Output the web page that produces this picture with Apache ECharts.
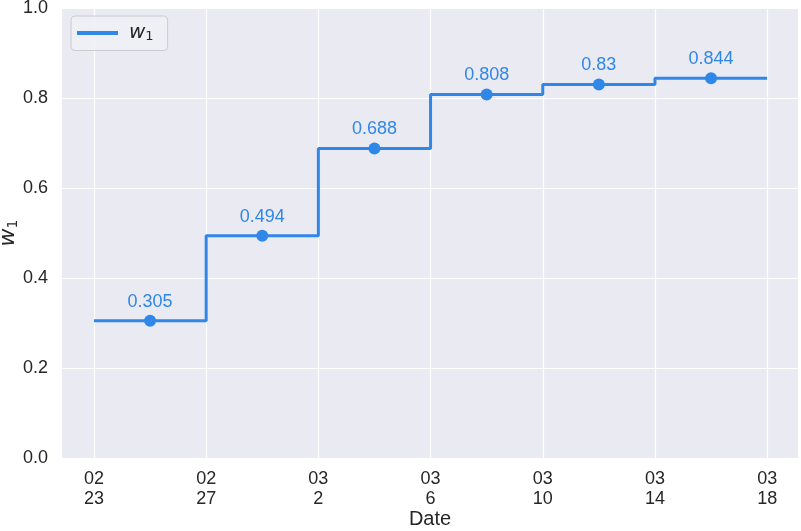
<!DOCTYPE html>
<html><head><meta charset="utf-8">
<script src="https://cdn.jsdelivr.net/npm/echarts@6/dist/echarts.min.js"></script>
<style>html,body{margin:0;padding:0;background:#fff}#c{width:801px;height:531px}</style>
</head><body><div id="c"></div>
<script>
// Step boundaries (2020) and values
const stepDates = ['2020-02-23','2020-02-27','2020-03-02','2020-03-06','2020-03-10','2020-03-14','2020-03-18'];
const stepValues = [0.305, 0.494, 0.688, 0.808, 0.83, 0.844];
const yTicks = [0, 0.2, 0.4, 0.6, 0.8, 1.0];

const DAY = 86400000;
const t0 = Date.parse(stepDates[0] + 'T00:00:00Z');
const dayOf = d => (Date.parse(d + 'T00:00:00Z') - t0) / DAY;
const xs = stepDates.map(dayOf);
const stepData = xs.map((x, i) => [x, stepValues[Math.min(i, stepValues.length - 1)]]);
const markData = stepValues.map((v, i) => [(xs[i] + xs[i + 1]) / 2, v]);
const fmtTick = v => {
  const d = new Date(t0 + v * DAY);
  const mm = String(d.getUTCMonth() + 1).padStart(2, '0');
  return mm + '\n' + d.getUTCDate();
};
const BLUE = '#2f87e8';
const TXT = '#262626';
const chart = echarts.init(document.getElementById('c'));
chart.setOption({
  animation: false,
  backgroundColor: '#ffffff',
  grid: { left: 62, right: 3, top: 8, bottom: 73, containLabel: false, outerBoundsMode: 'none',
          show: true, backgroundColor: '#eaeaf2', borderWidth: 0 },
  legend: {
    left: 71, top: 16, padding: [7, 14, 7, 6],
    itemWidth: 41, itemHeight: 4, itemGap: 10,
    backgroundColor: 'rgba(240,240,246,0.9)', borderColor: '#cccccc', borderWidth: 1, borderRadius: 4,
    data: [{ name: 'w1', icon: 'rect', itemStyle: { color: BLUE } }],
    formatter: () => '{i|w}{s|1}',
    textStyle: { rich: {
      i: { fontStyle: 'italic', fontSize: 20, color: TXT, fontFamily: 'DejaVu Sans', padding: [0, 0, 0, 6] },
      s: { fontSize: 13, color: TXT, fontFamily: 'DejaVu Sans', verticalAlign: 'bottom', padding: [8, 0, 0, 0] }
    } }
  },
  xAxis: {
    type: 'value', min: xs[0] - 1.14, max: xs[xs.length - 1] + 1.1,
    name: 'Date', nameLocation: 'middle', nameGap: 51, nameMoveOverlap: false,
    nameTextStyle: { fontSize: 20, color: TXT, fontFamily: 'Liberation Sans' },
    axisLine: { show: false }, axisTick: { show: false, customValues: xs },
    axisLabel: { customValues: xs, formatter: fmtTick, fontSize: 18, lineHeight: 20, color: TXT, margin: 11, fontFamily: 'Liberation Sans' },
    splitLine: { show: true, lineStyle: { color: '#ffffff', width: 1.2 } }
  },
  yAxis: {
    type: 'value', min: 0, max: 1, interval: 0.2,
    name: '{i|w}{s|1}', nameLocation: 'middle', nameGap: 42, nameRotate: 90, nameMoveOverlap: false,
    nameTextStyle: { rich: {
      i: { fontStyle: 'italic', fontSize: 22, color: TXT, fontFamily: 'DejaVu Sans' },
      s: { fontSize: 14, color: TXT, fontFamily: 'DejaVu Sans', verticalAlign: 'bottom', padding: [9, 0, 0, 0] }
    } },
    axisLine: { show: false }, axisTick: { show: false },
    axisLabel: { formatter: v => v.toFixed(1), fontSize: 18, color: TXT, margin: 14, fontFamily: 'Liberation Sans' },
    splitLine: { show: true, lineStyle: { color: '#ffffff', width: 1.2 } }
  },
  series: [
    { name: 'w1', type: 'line', step: 'end', data: stepData, symbol: 'none',
      lineStyle: { color: BLUE, width: 3 }, itemStyle: { color: BLUE }, z: 3 },
    { name: 'pts', type: 'scatter', data: markData, symbolSize: 12, itemStyle: { color: BLUE, opacity: 1 }, z: 4,
      label: { show: true, position: 'top', distance: 4, formatter: p => String(p.value[1]), color: BLUE, fontSize: 18, fontFamily: 'Liberation Sans' } }
  ]
});
</script></body></html>
